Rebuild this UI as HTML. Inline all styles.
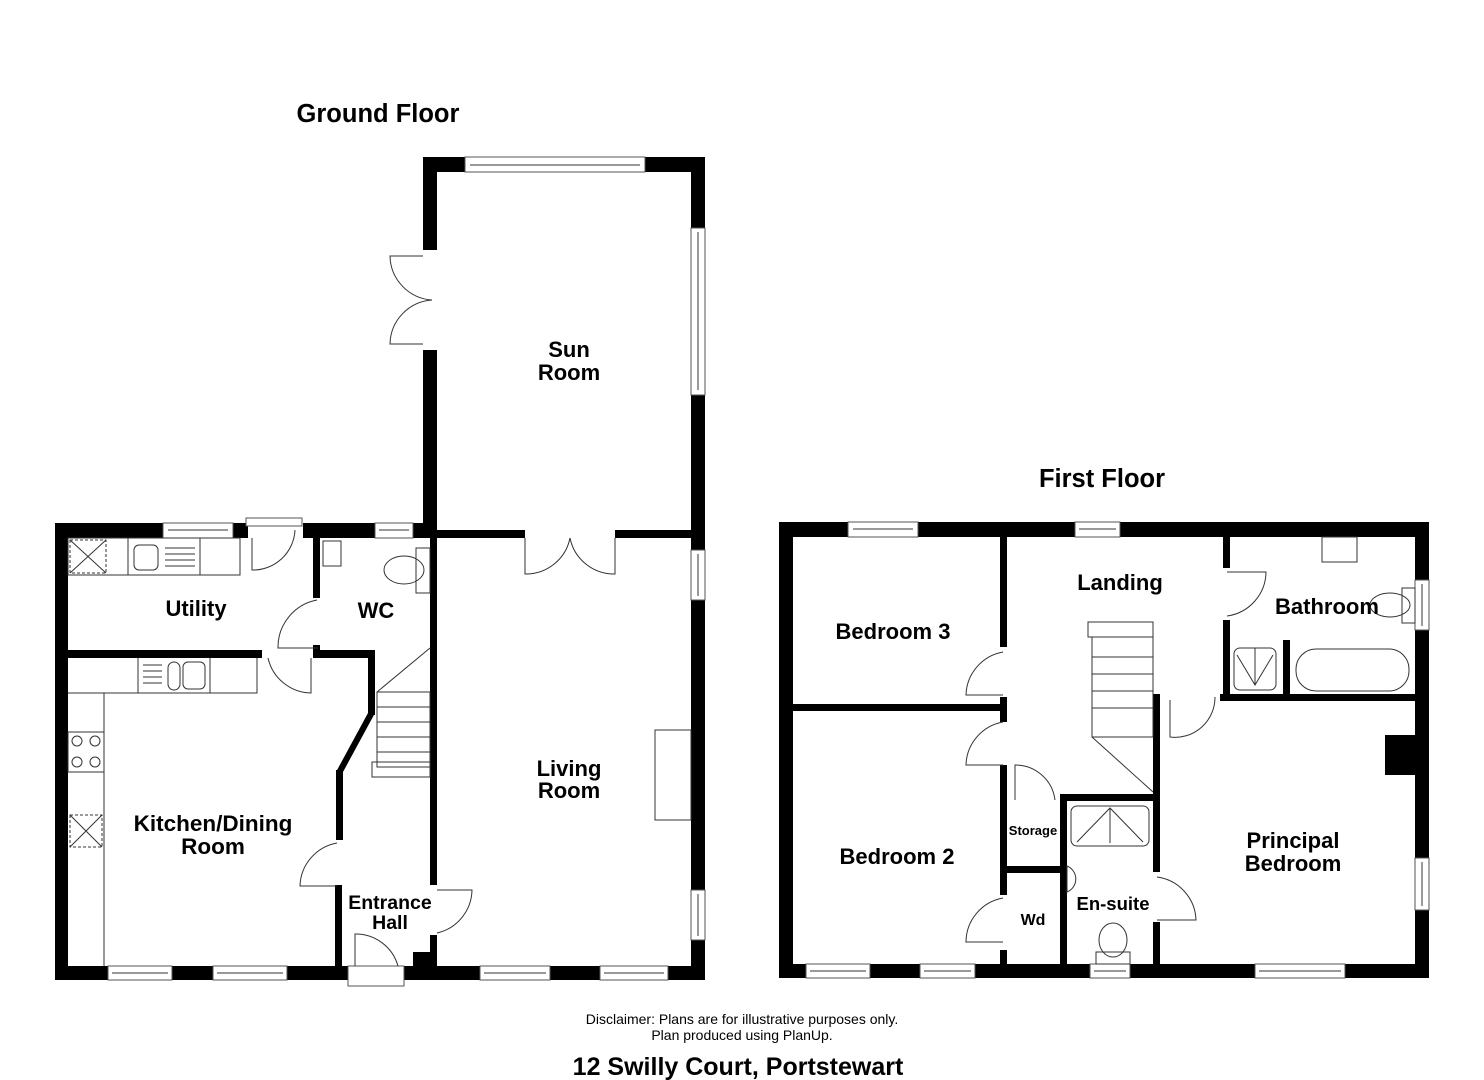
<!DOCTYPE html>
<html><head><meta charset="utf-8"><style>
html,body{margin:0;padding:0;background:#fff;}
svg{display:block}
text{font-family:"Liberation Sans",Arial,sans-serif;font-weight:bold;fill:#000;text-anchor:middle}
.w{fill:#000}
.win{fill:#fff;stroke:#555;stroke-width:1}
.l{fill:none;stroke:#333;stroke-width:1}
</style></head><body>
<svg width="1484" height="1080" viewBox="0 0 1484 1080" xmlns="http://www.w3.org/2000/svg">
<text x="378" y="122" font-size="25.5">Ground Floor</text>
<text x="1102" y="487" font-size="25.5">First Floor</text>

<!-- ===== GROUND FLOOR ===== -->
<rect class="w" x="423" y="157" width="42" height="15"/>
<rect class="w" x="645" y="157" width="60" height="15"/>
<rect class="w" x="423" y="157" width="14" height="93"/>
<rect class="w" x="423" y="350" width="14" height="188"/>
<rect class="w" x="691" y="157" width="14" height="71"/>
<rect class="w" x="691" y="395" width="14" height="155"/>
<rect class="w" x="691" y="600" width="14" height="290"/>
<rect class="w" x="691" y="940" width="14" height="40"/>
<rect class="win" x="465" y="157" width="180" height="15"/><line class="l" x1="470" y1="165" x2="640" y2="165"/>
<rect class="win" x="691" y="228" width="14" height="167"/><line class="l" x1="698" y1="232" x2="698" y2="390"/>
<rect class="win" x="691" y="550" width="14" height="50"/><line class="l" x1="698" y1="554" x2="698" y2="596"/>
<rect class="win" x="691" y="890" width="14" height="50"/><line class="l" x1="698" y1="894" x2="698" y2="936"/>
<path class="l" d="M423 256 L390 256 A45 45 0 0 0 432 300 M423 344 L390 344 A45 45 0 0 1 432 300"/>
<rect class="w" x="430" y="530" width="95" height="8"/>
<rect class="w" x="615" y="530" width="76" height="8"/>
<path class="l" d="M525 538 L525 574 A45 45 0 0 0 570 538 M615 538 L615 574 A45 45 0 0 1 570 538"/>
<rect class="w" x="430" y="530" width="7" height="355"/>
<rect class="w" x="430" y="935" width="7" height="31"/>
<rect class="w" x="413" y="952" width="24" height="14"/>
<path class="l" d="M437 890 L472 890 A45 45 0 0 1 437 933"/>
<rect class="l" x="655" y="730" width="36" height="90"/>
<rect class="w" x="55" y="523" width="108" height="15"/>
<rect class="w" x="233" y="523" width="15" height="15"/>
<rect class="w" x="303" y="523" width="72" height="15"/>
<rect class="w" x="413" y="523" width="24" height="15"/>
<rect class="win" x="163" y="523" width="70" height="15"/><line class="l" x1="168" y1="530" x2="228" y2="530"/>
<rect class="win" x="375" y="523" width="38" height="15"/><line class="l" x1="379" y1="530" x2="409" y2="530"/>
<rect class="win" x="246" y="518" width="56" height="8"/>
<path class="l" d="M252 538 L252 570 A42 42 0 0 0 295 530"/>
<rect class="w" x="55" y="523" width="13" height="457"/>
<rect class="w" x="55" y="966" width="53" height="14"/>
<rect class="w" x="172" y="966" width="41" height="14"/>
<rect class="w" x="287" y="966" width="61" height="14"/>
<rect class="w" x="404" y="966" width="76" height="14"/>
<rect class="w" x="550" y="966" width="50" height="14"/>
<rect class="w" x="668" y="966" width="37" height="14"/>
<rect class="win" x="108" y="966" width="64" height="14"/><line class="l" x1="112" y1="973" x2="168" y2="973"/>
<rect class="win" x="213" y="966" width="74" height="14"/><line class="l" x1="217" y1="973" x2="283" y2="973"/>
<rect class="win" x="480" y="966" width="70" height="14"/><line class="l" x1="484" y1="973" x2="546" y2="973"/>
<rect class="win" x="600" y="966" width="68" height="14"/><line class="l" x1="604" y1="973" x2="664" y2="973"/>
<rect class="win" x="348" y="966" width="56" height="20"/>
<path class="l" d="M355 966 L355 934 A44 44 0 0 1 398 966"/>
<rect class="w" x="313" y="538" width="7" height="60"/>
<rect class="w" x="313" y="645" width="7" height="13"/>
<path class="l" d="M317 600 A48 48 0 0 0 278 648 L318 648"/>
<rect class="l" x="323" y="541" width="18" height="25"/>
<ellipse class="l" cx="404" cy="570" rx="20" ry="14"/>
<rect class="l" x="416" y="548" width="14" height="45"/>
<rect class="w" x="68" y="650" width="194" height="8"/>
<rect class="w" x="313" y="650" width="62" height="8"/>
<rect class="w" x="368" y="650" width="7" height="65"/>
<polygon class="w" points="368,713 375,713 343,772 336,772"/>
<rect class="w" x="336" y="770" width="7" height="70"/>
<rect class="w" x="335" y="885" width="7" height="81"/>
<path class="l" d="M268 658 A45 45 0 0 0 311 693 L311 658"/>
<path class="l" d="M337 843 A45 45 0 0 0 300 886 L337 886"/>
<rect class="l" x="377" y="692" width="53" height="75"/>
<line class="l" x1="377" y1="707" x2="430" y2="707"/><line class="l" x1="377" y1="722" x2="430" y2="722"/>
<line class="l" x1="377" y1="737" x2="430" y2="737"/><line class="l" x1="377" y1="752" x2="430" y2="752"/>
<line class="l" x1="377" y1="692" x2="430" y2="648"/>
<rect class="l" x="372" y="762" width="58" height="15"/>
<rect class="l" x="68" y="538" width="172" height="37"/>
<line class="l" x1="128" y1="538" x2="128" y2="575"/><line class="l" x1="200" y1="538" x2="200" y2="575"/>
<rect class="l" x="70" y="540" width="36" height="33" stroke-dasharray="3,2"/>
<path class="l" d="M70 540 L106 573 M106 540 L70 573"/>
<rect class="l" x="134" y="545" width="24" height="25" rx="5"/>
<line class="l" x1="165" y1="548" x2="195" y2="548"/><line class="l" x1="165" y1="554" x2="195" y2="554"/><line class="l" x1="165" y1="560" x2="195" y2="560"/><line class="l" x1="165" y1="566" x2="195" y2="566"/>
<path class="l" d="M68 693 L257 693 L257 658 M138 658 L138 693 M210 658 L210 693 M104 693 L104 966"/>
<line class="l" x1="143" y1="665" x2="162" y2="665"/><line class="l" x1="143" y1="671" x2="162" y2="671"/><line class="l" x1="143" y1="677" x2="162" y2="677"/><line class="l" x1="143" y1="683" x2="162" y2="683"/>
<rect class="l" x="168" y="662" width="12" height="28" rx="6"/><rect class="l" x="183" y="662" width="22" height="27" rx="5"/>
<rect class="l" x="68" y="732" width="36" height="40"/>
<circle class="l" cx="77" cy="741" r="5"/><circle class="l" cx="95" cy="741" r="5"/><circle class="l" cx="77" cy="762" r="5"/><circle class="l" cx="95" cy="762" r="5"/>
<rect class="l" x="70" y="815" width="32" height="32" stroke-dasharray="3,2"/>
<path class="l" d="M70 815 L102 847 M102 815 L70 847"/>

<text x="569" y="357" font-size="22">Sun</text>
<text x="569" y="380" font-size="22">Room</text>
<text x="196" y="616" font-size="22">Utility</text>
<text x="376" y="618" font-size="22">WC</text>
<text x="569" y="776" font-size="22">Living</text>
<text x="569" y="798" font-size="22">Room</text>
<text x="213" y="831" font-size="22.5">Kitchen/Dining</text>
<text x="213" y="854" font-size="22.5">Room</text>
<text x="390" y="909" font-size="19.5">Entrance</text>
<text x="390" y="929" font-size="19.5">Hall</text>

<!-- ===== FIRST FLOOR ===== -->
<rect class="w" x="779" y="522" width="69" height="15"/>
<rect class="w" x="918" y="522" width="157" height="15"/>
<rect class="w" x="1120" y="522" width="309" height="15"/>
<rect class="win" x="848" y="522" width="70" height="15"/><line class="l" x1="853" y1="529" x2="913" y2="529"/>
<rect class="win" x="1075" y="522" width="45" height="15"/><line class="l" x1="1079" y1="529" x2="1116" y2="529"/>
<rect class="w" x="779" y="522" width="14" height="456"/>
<rect class="w" x="1415" y="522" width="14" height="58"/>
<rect class="w" x="1415" y="630" width="14" height="228"/>
<rect class="w" x="1415" y="910" width="14" height="68"/>
<rect class="win" x="1415" y="580" width="14" height="50"/><line class="l" x1="1422" y1="584" x2="1422" y2="626"/>
<rect class="win" x="1415" y="858" width="14" height="52"/><line class="l" x1="1422" y1="862" x2="1422" y2="906"/>
<rect class="w" x="779" y="964" width="27" height="14"/>
<rect class="w" x="870" y="964" width="50" height="14"/>
<rect class="w" x="975" y="964" width="115" height="14"/>
<rect class="w" x="1130" y="964" width="125" height="14"/>
<rect class="w" x="1345" y="964" width="84" height="14"/>
<rect class="win" x="806" y="964" width="64" height="14"/><line class="l" x1="810" y1="971" x2="866" y2="971"/>
<rect class="win" x="920" y="964" width="55" height="14"/><line class="l" x1="924" y1="971" x2="971" y2="971"/>
<rect class="win" x="1090" y="964" width="40" height="14"/><line class="l" x1="1094" y1="971" x2="1126" y2="971"/>
<rect class="win" x="1255" y="964" width="90" height="14"/><line class="l" x1="1259" y1="971" x2="1341" y2="971"/>
<rect class="w" x="1000" y="537" width="7" height="110"/>
<rect class="w" x="1000" y="697" width="7" height="25"/>
<rect class="w" x="793" y="704" width="214" height="7"/>
<rect class="w" x="1000" y="765" width="7" height="130"/>
<rect class="w" x="1000" y="950" width="7" height="14"/>
<path class="l" d="M1003 652 A45 45 0 0 0 966 695 L1003 695"/>
<path class="l" d="M1003 722 A45 45 0 0 0 966 765 L1003 765"/>
<path class="l" d="M1003 898 A45 45 0 0 0 966 942 L1003 942"/>
<rect class="w" x="1007" y="866" width="53" height="7"/>
<path class="l" d="M1015 800 L1015 765 A40 40 0 0 1 1055 800"/>
<rect class="w" x="1060" y="794" width="7" height="170"/>
<rect class="w" x="1060" y="794" width="100" height="7"/>
<rect class="w" x="1153" y="694" width="7" height="178"/>
<rect class="w" x="1153" y="922" width="7" height="42"/>
<path class="l" d="M1157 877 A45 45 0 0 1 1196 920 L1157 920"/>
<rect class="w" x="1223" y="537" width="7" height="31"/>
<rect class="w" x="1223" y="620" width="7" height="80"/>
<rect class="w" x="1220" y="694" width="195" height="7"/>
<rect class="w" x="1283" y="640" width="7" height="55"/>
<path class="l" d="M1227 572 L1266 572 A45 45 0 0 1 1227 616"/>
<path class="l" d="M1170 700 L1170 737 A40 40 0 0 0 1215 697"/>
<rect class="w" x="1385" y="735" width="30" height="40"/>
<rect class="l" x="1088" y="622" width="65" height="15"/>
<rect class="l" x="1092" y="637" width="61" height="100"/>
<line class="l" x1="1092" y1="657" x2="1153" y2="657"/><line class="l" x1="1092" y1="674" x2="1153" y2="674"/>
<line class="l" x1="1092" y1="691" x2="1153" y2="691"/><line class="l" x1="1092" y1="708" x2="1153" y2="708"/>
<line class="l" x1="1092" y1="737" x2="1153" y2="792"/>
<rect class="l" x="1322" y="537" width="35" height="25"/>
<ellipse class="l" cx="1390" cy="605" rx="20" ry="12"/>
<rect class="l" x="1402" y="588" width="13" height="35"/>
<rect class="l" x="1234" y="648" width="42" height="42" rx="6"/>
<path class="l" d="M1255 648 L1255 685 M1237 655 L1255 685 L1273 655"/>
<rect class="l" x="1296" y="649" width="113" height="42" rx="20"/>
<rect class="l" x="1071" y="806" width="78" height="40" rx="6"/>
<path class="l" d="M1110 808 L1110 843 M1077 842 L1110 808 L1143 842"/>
<path class="l" d="M1067 866 A14 14 0 0 1 1067 892 Z"/>
<ellipse class="l" cx="1113" cy="940" rx="14" ry="17"/>
<rect class="l" x="1096" y="952" width="34" height="12"/>

<text x="1120" y="590" font-size="22">Landing</text>
<text x="1327" y="614" font-size="22">Bathroom</text>
<text x="893" y="639" font-size="22">Bedroom 3</text>
<text x="897" y="864" font-size="22">Bedroom 2</text>
<text x="1033" y="835" font-size="13">Storage</text>
<text x="1033" y="925" font-size="16">Wd</text>
<text x="1113" y="910" font-size="18.5">En-suite</text>
<text x="1293" y="848" font-size="22">Principal</text>
<text x="1293" y="871" font-size="22">Bedroom</text>

<text x="742" y="1024" font-size="14" style="font-weight:normal">Disclaimer: Plans are for illustrative purposes only.</text>
<text x="742" y="1040" font-size="14" style="font-weight:normal">Plan produced using PlanUp.</text>
<text x="738" y="1075" font-size="25">12 Swilly Court, Portstewart</text>
</svg>
</body></html>
